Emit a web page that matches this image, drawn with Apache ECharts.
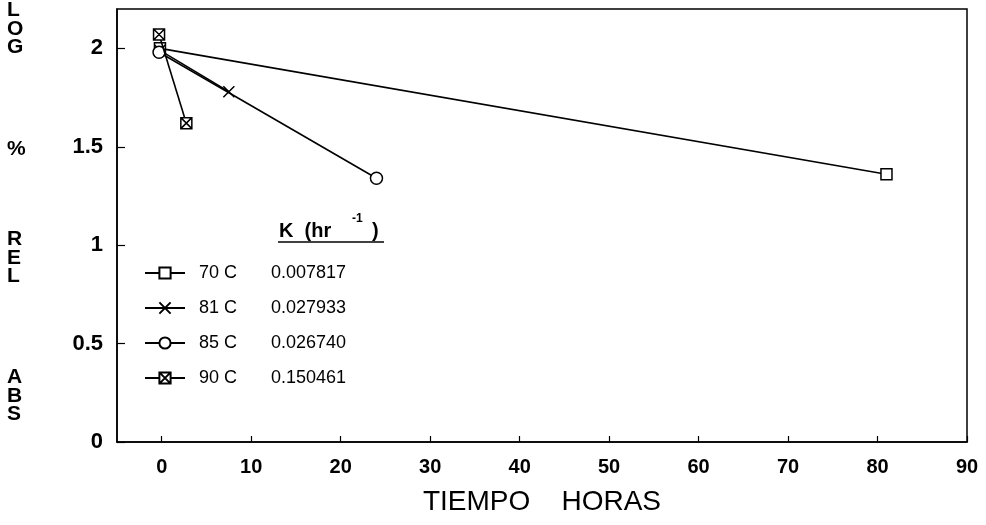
<!DOCTYPE html>
<html>
<head>
<meta charset="utf-8">
<script src="https://cdn.jsdelivr.net/npm/echarts@6/dist/echarts.min.js"></script>
<style>html,body{margin:0;padding:0;background:#fff}#c{width:986px;height:525px}</style>
</head>
<body>
<div id="c"></div>
<script>
// Data
const seriesNames = ['70 C', '81 C', '85 C', '90 C'];
const kValues = ['0.007817', '0.027933', '0.026740', '0.150461'];
const x70 = [-0.2, 81];   const y70 = [2.00, 1.36];
const x81 = [-0.2, 7.5];  const y81 = [1.99, 1.78];
const x85 = [-0.3, 24];   const y85 = [1.98, 1.34];
const x90 = [-0.3, 2.75]; const y90 = [2.07, 1.62];
const xTickValues = [0, 10, 20, 30, 40, 50, 60, 70, 80, 90];
const yTickValues = [0, 0.5, 1, 1.5, 2];
const xTitle = 'TIEMPO    HORAS';
const yTitleParts = [['L', 'O', 'G'], ['%'], ['R', 'E', 'L'], ['A', 'B', 'S']];

const pairs = (xs, ys) => xs.map((x, i) => [x, ys[i]]);
const symbols = [
  'rect',
  'path://M0,0L10,10M10,0L0,10',
  'circle',
  'path://M0,0H10V10H0Z M0,0L10,10 M10,0L0,10'
];
const dataSets = [pairs(x70, y70), pairs(x81, y81), pairs(x85, y85), pairs(x90, y90)];

const chart = echarts.init(document.getElementById('c'), null, {renderer: 'canvas'});
const FONT = '"Liberation Sans", Arial, sans-serif';

const yTitleGraphics = [];
const yStarts = [0, 139, 229, 367];
yTitleParts.forEach((grp, gi) => {
  grp.forEach((ch, ci) => {
    yTitleGraphics.push({
      type: 'text', left: 7, top: yStarts[gi] + ci * 18.5,
      style: {text: ch, font: 'bold 21px ' + FONT, fill: '#000'}
    });
  });
});

const kMap = {};
seriesNames.forEach((n, i) => kMap[n] = kValues[i]);

chart.setOption({
  animation: false,
  backgroundColor: '#fff',
  grid: {left: 117, top: 9, right: 19, bottom: 83, show: true, borderColor: '#000', borderWidth: 1.5, backgroundColor: 'transparent', containLabel: false},
  xAxis: {
    type: 'value', min: -5, max: 90,
    axisLine: {show: true, onZero: false, lineStyle: {color: '#000', width: 1.5}},
    splitLine: {show: false},
    axisTick: {show: true, inside: true, length: 6, customValues: xTickValues, lineStyle: {color: '#000', width: 1.2}},
    axisLabel: {customValues: xTickValues, margin: 15, color: '#000', fontSize: 20, fontWeight: 'bold', fontFamily: FONT},
    name: xTitle, nameLocation: 'middle', nameGap: 46,
    nameTextStyle: {color: '#000', fontSize: 28, fontFamily: FONT}
  },
  yAxis: {
    type: 'value', min: 0, max: 2.2,
    axisLine: {show: true, onZero: false, lineStyle: {color: '#000', width: 1.5}},
    splitLine: {show: false},
    axisTick: {show: true, inside: true, length: 8, customValues: yTickValues, lineStyle: {color: '#000', width: 1.2}},
    axisLabel: {customValues: yTickValues, margin: 14, color: '#000', fontSize: 22, fontWeight: 'bold', fontFamily: FONT}
  },
  legend: {
    orient: 'vertical', left: 139, top: 259,
    itemWidth: 40, itemHeight: 14, itemGap: 17,
    data: seriesNames,
    formatter: n => `{n|${n}}{k|${kMap[n]}}`,
    textStyle: {
      color: '#000', fontSize: 18, fontFamily: FONT,
      rich: {
        n: {width: 72, padding: [0, 0, 0, 9], fontSize: 18, color: '#000', fontFamily: FONT},
        k: {fontSize: 18, color: '#000', fontFamily: FONT}
      }
    }
  },
  graphic: [
    ...yTitleGraphics,
    {type: 'text', left: 279, top: 221, style: {text: 'K  (hr', font: 'bold 20px ' + FONT, fill: '#000'}},
    {type: 'text', left: 352, top: 213, style: {text: '-1', font: 'bold 12px ' + FONT, fill: '#000'}},
    {type: 'text', left: 372, top: 221, style: {text: ')', font: 'bold 20px ' + FONT, fill: '#000'}},
    {type: 'line', shape: {x1: 278, y1: 242, x2: 384, y2: 242}, style: {stroke: '#000', lineWidth: 1.5}}
  ],
  series: seriesNames.map((n, i) => ({
    name: n, type: 'line', data: dataSets[i],
    symbol: symbols[i], symbolSize: i === 2 ? 12 : 11, showSymbol: true,
    lineStyle: {color: '#000', width: 1.6},
    itemStyle: {color: '#fff', borderColor: '#000', borderWidth: 1.5},
    z: 3 + i
  }))
});
</script>
</body>
</html>
